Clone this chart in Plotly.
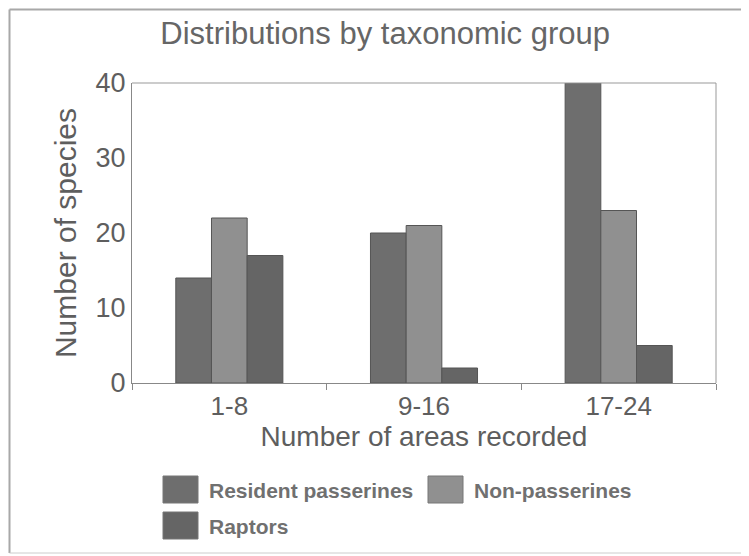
import plotly.graph_objects as go

categories = ["1-8", "9-16", "17-24"]
resident_passerines = [14, 20, 40]
non_passerines = [22, 21, 23]
raptors = [17, 2, 5]

series_names = ["Resident passerines", "Non-passerines", "Raptors"]
series_colors = ["#6e6e6e", "#909090", "#656565"]

FONT = "Liberation Sans, Arial, sans-serif"
TEXT_GREY = "#5e5e5e"

# page is drawn with an 8px body offset; plot box sits at x 132..716, y 83..383
PX_L, PX_R, PX_T, PX_B = 132, 716, 83, 383


def px(x):
    return (x - PX_L) / (PX_R - PX_L)


def py(y):
    return (PX_B - y) / (PX_B - PX_T)


fig = go.Figure()
for name, values, color in zip(
    series_names, [resident_passerines, non_passerines, raptors], series_colors
):
    fig.add_trace(
        go.Bar(
            x=categories,
            y=values,
            name=name,
            marker=dict(color=color, line=dict(color="#555555", width=1)),
            showlegend=False,
        )
    )

fig.update_layout(
    width=741,
    height=548,
    barmode="group",
    bargap=0.45,
    bargroupgap=0,
    plot_bgcolor="white",
    paper_bgcolor="white",
    margin=dict(l=PX_L - 8, r=749 - PX_R, t=PX_T - 8, b=556 - PX_B),
    font=dict(family=FONT, color=TEXT_GREY),
    title=dict(
        text="Distributions by taxonomic group",
        x=0.509,
        xanchor="center",
        y=0.955,
        yanchor="middle",
        font=dict(size=31, color="#666666"),
    ),
)

fig.update_xaxes(
    title=dict(text="Number of areas recorded", font=dict(size=28, color=TEXT_GREY), standoff=0),
    tickfont=dict(size=26, color=TEXT_GREY),
    showline=True,
    linecolor="#888888",
    linewidth=1,
    ticks="outside",
    tickson="boundaries",
    ticklen=6,
    tickcolor="#888888",
)
fig.update_yaxes(
    title=dict(text="Number of species", font=dict(size=30, color=TEXT_GREY), standoff=10),
    tickfont=dict(size=27, color=TEXT_GREY),
    range=[0, 40],
    tickvals=[0, 10, 20, 30, 40],
    showgrid=False,
    zeroline=False,
    showline=True,
    linecolor="#888888",
    linewidth=1,
    ticks="",
)

# plot frame: top and right edges
fig.add_shape(type="line", xref="paper", yref="paper", x0=0, x1=1, y0=1, y1=1,
              line=dict(color="#999999", width=1))
fig.add_shape(type="line", xref="paper", yref="paper", x0=1, x1=1, y0=0, y1=1,
              line=dict(color="#999999", width=1))

# outer figure border (left, top, bottom)
left, top, bottom, right = px(9.5), py(9.5), py(553), px(752)
fig.add_shape(type="line", xref="paper", yref="paper", x0=left, x1=left, y0=bottom, y1=top,
              line=dict(color="#a8a8a8", width=2))
fig.add_shape(type="line", xref="paper", yref="paper", x0=left, x1=right, y0=top, y1=top,
              line=dict(color="#a8a8a8", width=2))
fig.add_shape(type="line", xref="paper", yref="paper", x0=left, x1=right, y0=bottom, y1=bottom,
              line=dict(color="#cccccc", width=1))

# legend with large swatches, laid out like the original
legend_slots = [(163, 476), (428, 476), (163, 512)]
for (sx, sy), name, color in zip(legend_slots, series_names, series_colors):
    fig.add_shape(type="rect", xref="paper", yref="paper",
                  x0=px(sx), x1=px(sx + 35), y0=py(sy + 27), y1=py(sy),
                  fillcolor=color, line=dict(color="#777777", width=1))
    fig.add_annotation(text="<b>%s</b>" % name, xref="paper", yref="paper",
                       x=px(sx + 44), y=py(sy + 14), xanchor="left", yanchor="middle",
                       showarrow=False, font=dict(size=21, color="#707070"))

fig.write_html("out.html")
